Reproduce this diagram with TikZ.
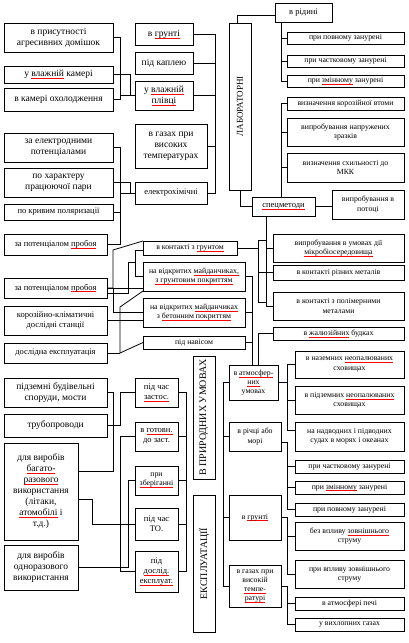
\documentclass[tikz,border=0pt]{standalone}
\usepackage{fontspec}
\setmainfont{Liberation Serif}
\usepackage{xcolor}
\usepackage{tikz}
\newcommand\rw[1]{\setbox0\hbox{#1}\rlap{\textcolor{red}{\rule[-2pt]{\wd0}{0.6pt}}}\box0\relax}
\tikzset{
    box/.style = {draw=black, line width=0.8pt, align=center, inner sep=1pt, outer sep=0pt},
    big/.style = {box, font=\fontsize{9.5}{11}\selectfont},
    mid/.style = {box, font=\fontsize{8.5}{10}\selectfont},
    small/.style = {box, font=\fontsize{7.8}{9.2}\selectfont},
    link/.style = {draw=black, line width=0.8pt},
    rect at/.style n args = {4}{minimum width={#3-#1}, minimum height={#4-#2}, at={(#1/2+#3/2,#2/2+#4/2)}}
}
\begin{document}
\begin{tikzpicture}[x=1pt, y=-1pt]
    \useasboundingbox (0,0) rectangle (408,643);

    \node [big, rect at={4}{23}{113}{52}] (agr) {в присутності\\агресивних домішок};
    \node [big, rect at={4}{66}{113}{83}] (vkam) {у \rw{влажній} камері};
    \node [big, rect at={4}{88}{113}{111}] (kold) {в камері охолодження};
    \node [big, rect at={135}{23}{193}{45}] (grunt) {в \rw{грунті}};
    \node [big, rect at={135}{52}{193}{74}] (kap) {під каплею};
    \node [big, rect at={135}{81}{193}{110}] (plv) {у \rw{влажній}\\\rw{плівці}};
    \node [big, rect at={135}{124}{207}{168}] (gaz) {в газах при\\високих\\температурах};
    \node [mid, rect at={135}{182}{207}{204}] (elch) {електрохімічні};

    \node [box, rect at={229}{23}{251}{190},
        label={[rotate=90, font=\fontsize{9}{11}\selectfont]center:ЛАБОРАТОРНІ}] (lab) {};
    \node [mid, rect at={275}{3}{332}{22}] (rid) {в рідині};
    \node [small, rect at={287}{32}{404}{44}] (r1) {при повному занурені};
    \node [small, rect at={287}{55}{404}{67}] (r2) {при частковому занурені};
    \node [small, rect at={287}{75}{404}{87}] (r3) {при \rw{змінному} занурені};
    \node [small, rect at={287}{97}{404}{110}] (r4) {визначення корозійної втоми};
    \node [small, rect at={287}{118}{404}{146}] (r5) {випробування напружених\\зразків};
    \node [small, rect at={287}{153}{404}{182}] (r6) {визначення схильності до\\МКК};
    \node [mid, rect at={252}{197}{315}{216}] (spec) {\rw{спецметоди}};
    \node [small, rect at={332}{190}{404}{219}] (potok) {випробування в\\потоці};

    \node [big, rect at={4}{133}{113}{162}] (elp) {за електродними\\потенціалами};
    \node [big, rect at={4}{168}{113}{197}] (har) {по характеру\\працюючої пари};
    \node [mid, rect at={4}{204}{113}{220}] (krv) {по кривим поляризації};
    \node [mid, rect at={4}{234}{107}{255}] (pp1) {за потенціалом \rw{пробоя}};
    \node [mid, rect at={4}{278}{107}{298}] (pp2) {за потенціалом \rw{пробоя}};
    \node [mid, rect at={4}{306}{107}{335}] (kkds) {корозійно-кліматичні\\дослідні станції};
    \node [mid, rect at={4}{343}{107}{363}] (dexp) {дослідна експлуатація};

    \node [small, rect at={143}{241}{237}{255}] (gr2) {в контакті з \rw{грунтом}};
    \node [small, rect at={143}{262}{245}{291}] (mgr) {на відкритих \rw{майданчиках,}\\\rw{з грунтовим покриттям}};
    \node [small, rect at={143}{298}{245}{327}] (mbet) {на відкритих \rw{майданчиках}\\з \rw{бетонним покриттям}};
    \node [small, rect at={143}{336}{245}{349}] (nav) {під навісом};

    \node [small, rect at={273}{234}{404}{262}] (mikro) {випробування в умовах дії\\\rw{мікробіосередовища}};
    \node [small, rect at={273}{265}{404}{280}] (rmet) {в контакті різних металів};
    \node [small, rect at={273}{292}{404}{320}] (pmet) {в контакті з полімерними\\металами};
    \node [small, rect at={273}{327}{404}{340}] (zhal) {в \rw{жалюзійних} будках};

    \node [big, rect at={4}{378}{107}{407}] (pidz) {підземні будівельні\\споруди, мости};
    \node [big, rect at={4}{414}{107}{437}] (trub) {трубопроводи};
    \node [big, rect at={4}{443}{78}{540}] (bag) {для виробів\\\rw{багато-}\\\rw{разового}\\використання\\(літаки,\\\rw{атомобілі} і\\т.д.)};
    \node [big, rect at={4}{545}{78}{590}] (odn) {для виробів\\одноразового\\використання};

    \node [mid, rect at={135}{378}{178}{407}] (zast) {під час\\\rw{застос.}};
    \node [mid, rect at={135}{422}{178}{451}] (gotov) {в \rw{готовн.}\\до заст.};
    \node [small, rect at={135}{466}{178}{495}] (zber) {при\\\rw{зберіганні}};
    \node [mid, rect at={135}{508}{178}{540}] (to) {під час\\ТО.};
    \node [mid, rect at={135}{551}{178}{592}] (dosl) {під\\\rw{дослід.}\\\rw{експлуат.}};

    \node [box, rect at={193}{356}{215}{479},
        label={[rotate=90, font=\fontsize{10}{12}\selectfont]center:В ПРИРОДНИХ УМОВАХ}] (prir) {};
    \node [box, rect at={193}{495}{215}{632},
        label={[rotate=90, font=\fontsize{10}{12}\selectfont]center:ЕКСПЛУАТАЦІЇ}] (eks) {};

    \node [small, rect at={229}{365}{278}{400}] (atm) {в \rw{атмосфер-}\\\rw{них}\\умовах};
    \node [small, rect at={229}{422}{281}{451}] (rich) {в річці або\\морі};
    \node [small, rect at={229}{495}{281}{540}] (grn) {в \rw{грунті}};
    \node [small, rect at={229}{565}{281}{607}] (gzv) {в газах при\\високій\\\rw{темпе-}\\\rw{ратурі}};

    \node [small, rect at={295}{351}{404}{378}] (nazem) {в наземних \rw{неопалюваних}\\сховищах};
    \node [small, rect at={295}{386}{404}{414}] (pidzem) {в підземних \rw{неопалюваних}\\сховищах};
    \node [small, rect at={295}{422}{404}{451}] (sud) {на надводних і підводних\\судах в морях і океанах};
    \node [small, rect at={295}{460}{404}{473}] (chz) {при частковому занурені};
    \node [small, rect at={295}{481}{404}{494}] (zmz) {при \rw{змінному} занурені};
    \node [small, rect at={295}{503}{404}{516}] (pvz) {при повному занурені};
    \node [small, rect at={295}{522}{404}{550}] (bez) {без впливу \rw{зовнішнього}\\струму};
    \node [small, rect at={295}{560}{404}{588}] (pvl) {при впливу зовнішнього\\струму};
    \node [small, rect at={295}{597}{404}{610}] (pech) {в атмосфері печі};
    \node [small, rect at={295}{618}{404}{631}] (vyh) {у вихлопних газах};

    \draw [link] (agr.east) -- ++(7,0) |- (plv.west);
    \draw [link] (kold.east) -- ++(7,0) |- (plv.west);
    \draw [link] (vkam.east) -- ++(17,0) |- (plv.west);
    \draw [link] (grunt.east) -- ++(22,0) |- (elch.east);
    \draw [link] (kap.east) -- ++(22,0);
    \draw [link] (plv.east) -- ++(22,0);
    \draw [link] (gaz.east) -- ++(8,0);

    \draw [link] ([xshift=-3pt]lab.north) |- ([yshift=-3pt]rid.west);
    \draw [link] (lab.south) |- (spec.west);
    \draw [link] ([xshift=6pt]rid.south west) |- (r3.west);
    \draw [link] (r1.west) -- ++(-6,0);
    \draw [link] (r2.west) -- ++(-6,0);
    \draw [link] ([xshift=29pt]spec.north west) |- (r4.west);
    \draw [link] (r5.west) -- ++(-6,0);
    \draw [link] (r6.west) -- ++(-6,0);
    \draw [link] (spec.east) -- (spec.east -| potok.west);
    \draw [link] ([xshift=14pt]spec.south west) |- (pmet.west);
    \draw [link] (mikro.west) -- ++(-7,0);
    \draw [link] (rmet.west) -- ++(-15,0);
    \draw [link] (gr2.east) -- ++(21,0) coordinate (g1);
    \draw [link] ([yshift=8pt]g1) -- ([yshift=-54pt]g1);
    \draw [link] ([yshift=8pt]g1) -- ++(8,0);
    \draw [link] ([yshift=-54pt]g1) -- ++(8,0);

    \draw [link] (elp.east) -- ++(7,0) |- (elch.west);
    \draw [link] (krv.east) -- ++(7,0) |- (elch.west);
    \draw [link] (pp1.east) -- ++(13,0) |- (elch.west);
    \draw [link] (har.east) -- ++(17,0) |- (elch.west);

    \draw [link] (pp2.east) -- (pp2.east -| mgr.west);
    \draw [link] (pp2.east) -- ++(6,0) |- (mbet.west);
    \draw [link] (pp2.east) -- ++(6,0) -- ++(0,-38) -- (gr2.north west);
    \draw [link] ([yshift=-5pt]pp2.east) -- ++(21,0) -- ++(0,-31) -- ++(7,0);
    \draw [link] ([yshift=-2pt]gr2.west) -- ++(-8,0) |- (mgr.west);
    \draw [link] (kkds.east) -- (kkds.east -| mbet.west);
    \draw [link] (dexp.east) -- ++(13,0) coordinate (g3);
    \draw [link] (g3) -- ++(0,-46) -- (mgr.south west);
    \draw [link] (g3) -- (nav.west);

    \draw [link] (mgr.east) -| ([xshift=-1.5pt]atm.north);
    \draw [link] (mbet.east) -- ++(7,0);
    \draw [link] (nav.east) -- ++(7,0);
    \draw [link] (zhal.west) -| ([xshift=5pt]atm.north);

    \draw [link] (pidz.east) -- ++(6,0) |- ([yshift=20pt]bag.east);
    \draw [link] (trub.east) -- ++(13,0) |- (zast.west);
    \draw [link] (gotov.west) -- ++(-15,0) |- (dosl.west);
    \draw [link] ([yshift=-8pt]bag.east) -- ++(14,0) |- (to.west);
    \draw [link] (zber.west) -- ++(-7,0) |- (odn.east);

    \draw [link] (zast.east) -- ++(8,0) |- (dosl.east);
    \draw [link] (gotov.east) -- ++(8,0);
    \draw [link] (zber.east) -- ++(8,0);
    \draw [link] (to.east) -- ++(8,0);

    \draw [link] (atm.west) -- ++(-6,0) |- (gzv.west);
    \draw [link] (rich.west) -- ++(-6,0);
    \draw [link] (grn.west) -- ++(-6,0);
    \draw [link] (atm.east) -- ++(9,0);
    \draw [link] (nazem.west) -- ++(-8,0) |- ([yshift=6pt]sud.west);
    \draw [link] (pidzem.west) -- ++(-8,0);
    \draw [link] ([yshift=-6pt]rich.east) -- ++(6,0) |- (pvz.west);
    \draw [link] (chz.west) -- ++(-8,0);
    \draw [link] (zmz.west) -- ++(-8,0);
    \draw [link] (grn.east) -- ++(6,0) |- (pvl.west);
    \draw [link] (bez.west) -- ++(-8,0);
    \draw [link] (gzv.east) -- ++(6,0) |- (vyh.west);
    \draw [link] (pech.west) -- ++(-8,0);
\end{tikzpicture}
\end{document}
